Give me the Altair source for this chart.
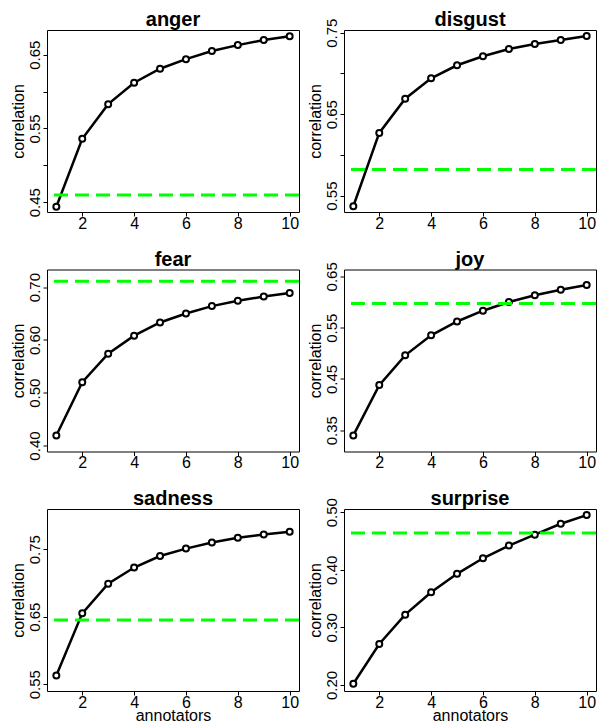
import altair as alt
import pandas as pd

annotators = [1, 2, 3, 4, 5, 6, 7, 8, 9, 10]
emotions = ["anger", "disgust", "fear", "joy", "sadness", "surprise"]
anger = [0.444, 0.536, 0.583, 0.612, 0.631, 0.644, 0.655, 0.663, 0.670, 0.675]
disgust = [0.537, 0.627, 0.669, 0.694, 0.710, 0.721, 0.730, 0.736, 0.741, 0.746]
fear = [0.419, 0.520, 0.574, 0.608, 0.633, 0.650, 0.664, 0.674, 0.682, 0.689]
joy = [0.340, 0.438, 0.496, 0.535, 0.562, 0.583, 0.600, 0.613, 0.624, 0.633]
sadness = [0.563, 0.655, 0.699, 0.723, 0.740, 0.751, 0.760, 0.767, 0.772, 0.776]
surprise = [0.202, 0.271, 0.322, 0.361, 0.393, 0.420, 0.442, 0.461, 0.480, 0.495]
series = [anger, disgust, fear, joy, sadness, surprise]
# green dashed reference level per emotion
reference = [0.460, 0.582, 0.711, 0.597, 0.645, 0.464]

y_domains = [[0.4368, 0.6835], [0.5299, 0.7533], [0.3887, 0.7333],
             [0.3086, 0.6633], [0.5399, 0.8097], [0.1894, 0.5056]]
y_ticks = [[0.45, 0.50, 0.55, 0.60, 0.65],
           [0.55, 0.60, 0.65, 0.70, 0.75],
           [0.40, 0.45, 0.50, 0.55, 0.60, 0.65, 0.70],
           [0.35, 0.40, 0.45, 0.50, 0.55, 0.60, 0.65],
           [0.55, 0.60, 0.65, 0.70, 0.75, 0.80],
           [0.20, 0.25, 0.30, 0.35, 0.40, 0.45, 0.50]]
y_labels = [[45, 55, 65], [55, 65, 75], [40, 50, 60, 70],
            [35, 45, 55, 65], [55, 65, 75], [20, 30, 40, 50]]
x_ticks = [2, 4, 6, 8, 10]

FONT = "Liberation Sans"
W, H = 252, 182


def panel(i):
    name = emotions[i]
    df = pd.DataFrame({"annotators": annotators, "correlation": series[i]})
    ref = pd.DataFrame({"level": [reference[i]]})
    ttl = pd.DataFrame({"name": [name]})
    bottom = i >= 4
    xaxis_kw = dict(
        values=x_ticks, format="d", grid=False, domain=False,
        tickSize=4, tickColor="black", tickWidth=1,
        labelFont=FONT, labelFontSize=16, labelColor="black",
        labelPadding=-1, labelFlush=False, labelOverlap=False,
    )
    if bottom:
        xaxis_kw.update(title="annotators", titleFont=FONT, titleFontSize=16,
                        titleFontWeight="normal", titleColor="black",
                        titleY=29, titleBaseline="alphabetic")
    else:
        xaxis_kw.update(title="")
    labs = ",".join(str(v) for v in y_labels[i])
    yaxis = alt.Axis(
        values=y_ticks[i], grid=False, domain=False,
        tickSize=4, tickColor="black", tickWidth=1,
        labelExpr="indexof([" + labs + "], round(datum.value*100)) >= 0 ? format(datum.value, '.2f') : ''",
        labelFont=FONT, labelFontSize=15, labelColor="black",
        labelAngle=270, labelAlign="center", labelBaseline="alphabetic",
        labelPadding=4, labelFlush=False, labelOverlap=False,
        title="correlation", titleFont=FONT, titleFontSize=16,
        titleFontWeight="normal", titleColor="black",
        titleAngle=270, titleAlign="center", titleBaseline="alphabetic",
        titleX=-24, titleY=H / 2,
    )
    xs = alt.Scale(domain=[0.64, 10.36], nice=False, zero=False)
    ys = alt.Scale(domain=y_domains[i], nice=False, zero=False)
    base = alt.Chart(df)
    line = base.mark_line(color="black", strokeWidth=2.5).encode(
        x=alt.X("annotators:Q", scale=xs, axis=alt.Axis(**xaxis_kw)),
        y=alt.Y("correlation:Q", scale=ys, axis=yaxis),
    )
    pts = base.mark_point(shape="circle", filled=True, fill="white", stroke="black",
                          strokeWidth=2, size=36, opacity=1).encode(
        x=alt.X("annotators:Q", scale=xs),
        y=alt.Y("correlation:Q", scale=ys),
    )
    rule = alt.Chart(ref).mark_rule(color="#00ff00", strokeWidth=3,
                                    strokeDash=[14, 7]).encode(
        y=alt.Y("level:Q", scale=ys),
    )
    title = alt.Chart(ttl).mark_text(font=FONT, fontSize=20, fontWeight="bold",
                                     color="black", align="center",
                                     baseline="alphabetic").encode(
        text="name:N", x=alt.value(W / 2), y=alt.value(-4),
    )
    return alt.layer(line, pts, rule, title).properties(width=W, height=H)


chart = alt.concat(*[panel(i) for i in range(6)], columns=2,
                   spacing={"row": 57.5, "column": 45}, bounds="flush").properties(
    padding={"left": 1, "top": 1, "right": -1, "bottom": 0},
    background="white",
).configure_view(stroke="black", strokeWidth=1, fill="white")

chart.save("out.html", embed_options={"renderer": "svg", "actions": False})
